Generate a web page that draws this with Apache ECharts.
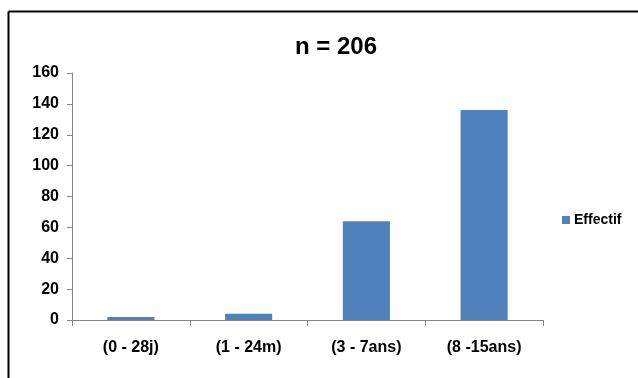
<!DOCTYPE html>
<html>
<head>
<meta charset="utf-8">
<script src="https://cdn.jsdelivr.net/npm/echarts@6/dist/echarts.min.js"></script>
<style>
  html, body { margin: 0; padding: 0; background: #fff; }
  #chart { width: 638px; height: 378px; }
</style>
</head>
<body>
<div id="chart"></div>
<script>
// categories and values
var categories = ['(0 - 28j)', '(1 - 24m)', '(3 - 7ans)', '(8 -15ans)'];
var effectif = [2, 4, 64, 136];
var yTicks = [0, 20, 40, 60, 80, 100, 120, 140, 160];

var chart = echarts.init(document.getElementById('chart'));

var option = {
  animation: false,
  title: {
    text: 'n = 206',
    left: 331,
    textAlign: 'center',
    top: 30,
    textStyle: { fontFamily: 'Liberation Sans', fontSize: 24, fontWeight: 'bold', color: '#000' }
  },
  // frame of the original picture (only top and left edges visible)
  graphic: [
    { type: 'line', shape: { x1: 8.5, y1: 11.5, x2: 638, y2: 11.5 }, style: { stroke: '#000', lineWidth: 2 } },
    { type: 'line', shape: { x1: 8.5, y1: 11.5, x2: 8.5, y2: 378 }, style: { stroke: '#000', lineWidth: 2 } }
  ],
  legend: {
    data: ['Effectif'],
    left: 557,
    top: 208,
    orient: 'vertical',
    icon: 'rect',
    itemWidth: 8,
    itemHeight: 8,
    itemGap: 4,
    textStyle: { fontFamily: 'Liberation Sans', fontSize: 14, fontWeight: 'bold', color: '#000', padding: [0, 0, 0, -1] }
  },
  grid: { left: 72, right: 95, top: 73, bottom: 58 },
  xAxis: {
    type: 'category',
    data: categories,
    axisLine: { lineStyle: { color: '#868686', width: 1 } },
    axisTick: { show: true, alignWithLabel: false, length: 6, lineStyle: { color: '#868686' } },
    axisLabel: { fontFamily: 'Liberation Sans', fontSize: 16, fontWeight: 'bold', color: '#000', margin: 20 }
  },
  yAxis: {
    type: 'value',
    min: yTicks[0],
    max: yTicks[yTicks.length - 1],
    interval: 20,
    axisLine: { show: true, lineStyle: { color: '#868686', width: 1 } },
    axisTick: { show: true, inside: false, length: 5, lineStyle: { color: '#868686' } },
    splitLine: { show: false },
    axisLabel: { fontFamily: 'Liberation Sans', fontSize: 16, fontWeight: 'bold', color: '#000', margin: 13 }
  },
  series: [
    {
      name: 'Effectif',
      type: 'bar',
      data: effectif,
      barWidth: '40%',
      itemStyle: { color: '#4F81BD' }
    }
  ]
};

chart.setOption(option);
</script>
</body>
</html>
